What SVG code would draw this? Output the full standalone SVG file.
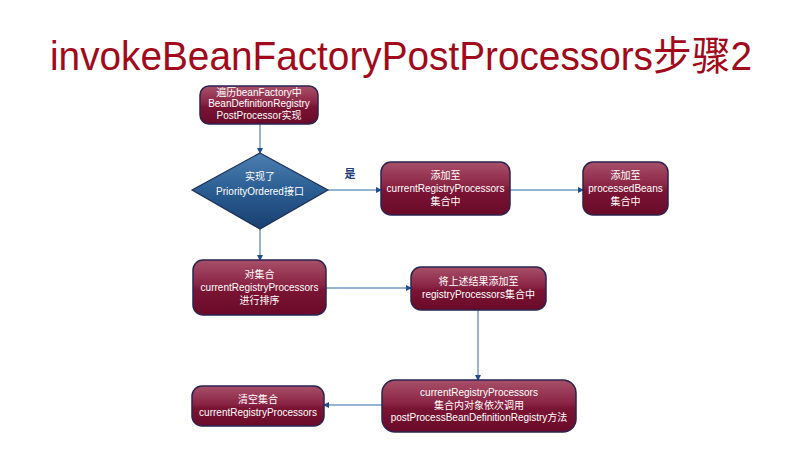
<svg xmlns="http://www.w3.org/2000/svg" width="794" height="456" viewBox="0 0 794 456">
<defs>
<linearGradient id="red" x1="0" y1="0" x2="0" y2="1">
<stop offset="0" stop-color="#a8506a"/>
<stop offset="0.45" stop-color="#8a2444"/>
<stop offset="0.55" stop-color="#7a1434"/>
<stop offset="1" stop-color="#6a0a28"/>
</linearGradient>
<linearGradient id="blue" x1="0" y1="0" x2="0" y2="1">
<stop offset="0" stop-color="#4d7fb0"/>
<stop offset="0.5" stop-color="#2a5d92"/>
<stop offset="1" stop-color="#1a3f70"/>
</linearGradient>
<marker id="arr" markerWidth="6" markerHeight="6" refX="5" refY="3" orient="auto" markerUnits="userSpaceOnUse">
<path d="M0,0 L6,3 L0,6 z" fill="#1f4f8a"/>
</marker>
</defs>
<style>
.n{fill:url(#red);stroke:#2b2350;stroke-width:1.5}
.t{font-family:"Liberation Sans","Noto Sans CJK SC",sans-serif;font-size:10px;fill:#ffffff;text-anchor:middle}
.c{stroke:#2f6aa3;stroke-width:1;fill:none;marker-end:url(#arr)}
</style>
<rect width="794" height="456" fill="#ffffff"/>
<text x="401" y="70" font-family="'Liberation Sans','Noto Sans CJK SC',sans-serif" font-size="40" fill="#a10a1a" text-anchor="middle" textLength="702" lengthAdjust="spacingAndGlyphs">invokeBeanFactoryPostProcessors步骤2</text>
<g id="connectors">
<line class="c" x1="260" y1="124" x2="260" y2="153"/>
<line class="c" x1="328" y1="190" x2="381" y2="190"/>
<line class="c" x1="510" y1="190" x2="583" y2="190"/>
<line class="c" x1="260" y1="229" x2="260" y2="260"/>
<line class="c" x1="326" y1="288" x2="411" y2="288"/>
<line class="c" x1="478" y1="310" x2="478" y2="380"/>
<line class="c" x1="382" y1="405" x2="324" y2="405"/>
</g>
<g id="n1">
<rect class="n" x="200" y="86" width="118" height="38" rx="9"/>
<text class="t" x="259" y="96">遍历beanFactory中</text>
<text class="t" x="259" y="107">BeanDefinitionRegistry</text>
<text class="t" x="259" y="119">PostProcessor实现</text>
</g>
<g id="decision">
<polygon points="260,153 328,190 260,229 192,190" fill="url(#blue)" stroke="#1c2f5a" stroke-width="1.2"/>
<text class="t" x="260" y="180">实现了</text>
<text class="t" x="260" y="195">PriorityOrdered接口</text>
</g>
<text x="350" y="178" font-family="'Liberation Sans','Noto Sans CJK SC',sans-serif" font-size="11" font-weight="bold" fill="#1f3f7a" text-anchor="middle">是</text>
<g id="nA">
<rect class="n" x="381" y="162" width="129" height="53" rx="10"/>
<text class="t" x="445.5" y="179">添加至</text>
<text class="t" x="445.5" y="192">currentRegistryProcessors</text>
<text class="t" x="445.5" y="205">集合中</text>
</g>
<g id="nB">
<rect class="n" x="583" y="162" width="85" height="53" rx="10"/>
<text class="t" x="625.5" y="179">添加至</text>
<text class="t" x="625.5" y="192">processedBeans</text>
<text class="t" x="625.5" y="205">集合中</text>
</g>
<g id="nC">
<rect class="n" x="193" y="260" width="133" height="55" rx="10"/>
<text class="t" x="259.5" y="278">对集合</text>
<text class="t" x="259.5" y="291">currentRegistryProcessors</text>
<text class="t" x="259.5" y="304">进行排序</text>
</g>
<g id="nD">
<rect class="n" x="411" y="267" width="135" height="43" rx="10"/>
<text class="t" x="478.5" y="285">将上述结果添加至</text>
<text class="t" x="478.5" y="298">registryProcessors集合中</text>
</g>
<g id="nE">
<rect class="n" x="382" y="380" width="194" height="52" rx="13"/>
<text class="t" x="479" y="396">currentRegistryProcessors</text>
<text class="t" x="479" y="409">集合内对象依次调用</text>
<text class="t" x="479" y="421">postProcessBeanDefinitionRegistry方法</text>
</g>
<g id="nF">
<rect class="n" x="192" y="386" width="132" height="40" rx="10"/>
<text class="t" x="258" y="403">清空集合</text>
<text class="t" x="258" y="416">currentRegistryProcessors</text>
</g>
</svg>
